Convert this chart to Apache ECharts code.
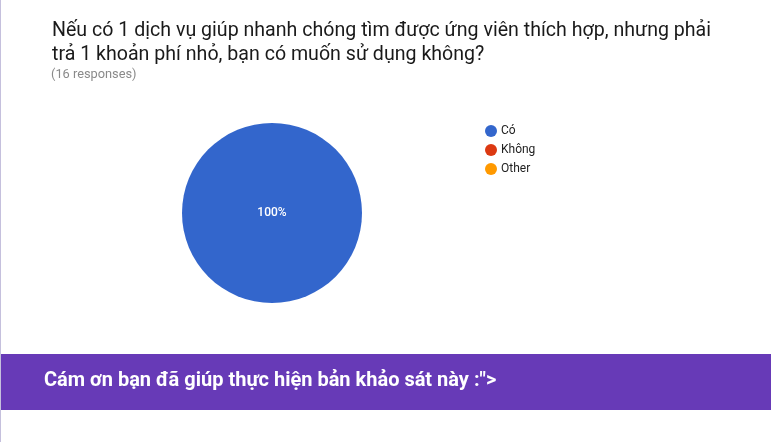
<!DOCTYPE html>
<html>
<head>
<meta charset="utf-8">
<script src="https://cdn.jsdelivr.net/npm/echarts@6/dist/echarts.min.js"></script>
<style>
html,body{margin:0;padding:0;background:#fff;}
#main{width:771px;height:442px;}
</style>
</head>
<body>
<div id="main"></div>
<script>
const categories = ['Có', 'Không', 'Other'];
const values = [16, 0, 0];
const colors = ['#3366cc', '#dc3912', '#ff9900'];
const titleLines = ['Nếu có 1 dịch vụ giúp nhanh chóng tìm được ứng viên thích hợp, nhưng phải', 'trả 1 khoản phí nhỏ, bạn có muốn sử dụng không?'];
const subtitle = '(16 responses)';
const footer = 'Cám ơn bạn đã giúp thực hiện bản khảo sát này :">';

const chart = echarts.init(document.getElementById('main'), null, {renderer: 'canvas'});
const total = values.reduce((a, b) => a + b, 0);
chart.setOption({
  animation: false,
  color: colors,
  legend: {
    orient: 'vertical',
    left: 480,
    top: 120,
    itemWidth: 12,
    itemHeight: 12,
    itemGap: 7,
    icon: 'circle',
    selectedMode: false,
    textStyle: {fontFamily: 'Roboto', fontSize: 12, color: '#222', padding: [0, 0, 0, -1]},
    data: categories
  },
  graphic: [
    {type: 'rect', left: 0, top: 0, shape: {width: 1, height: 442}, style: {fill: '#c5c0dd'}},
    {type: 'text', left: 52, top: 19, style: {text: titleLines.join('\n'), font: '19.6px Roboto', fill: '#1a1a1a', lineHeight: 24}},
    {type: 'text', left: 51, top: 68, style: {text: subtitle, font: '12.8px Roboto', fill: '#8a8a8a'}},
    {type: 'rect', left: 1, top: 354, shape: {width: 770, height: 56}, style: {fill: '#673ab7'}},
    {type: 'text', left: 44, top: 371, style: {text: footer, font: 'bold 20px Roboto', fill: '#ffffff'}}
  ],
  series: [{
    type: 'pie',
    center: [272, 213],
    radius: [0, 90],
    startAngle: 90,
    clockwise: true,
    avoidLabelOverlap: false,
    labelLine: {show: false},
    label: {
      show: true,
      position: 'inside',
      color: '#fff',
      fontFamily: 'Roboto',
      fontSize: 12,
      fontWeight: 500,
      formatter: p => p.value > 0 ? Math.round(p.value / total * 100) + '%' : ''
    },
    emphasis: {disabled: true},
    data: categories.map((c, i) => ({name: c, value: values[i],
      label: values[i] === total ? {position: 'center'} : {}}))
  }]
});
</script>
</body>
</html>
